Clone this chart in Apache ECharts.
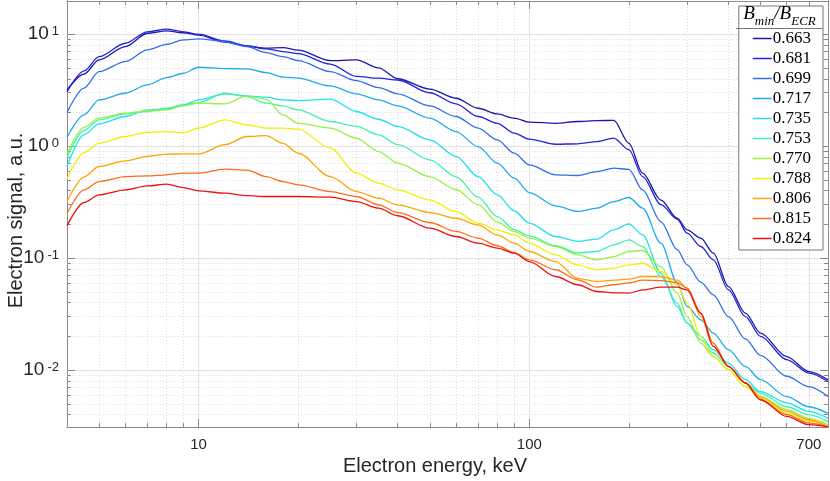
<!DOCTYPE html>
<html><head><meta charset="utf-8">
<script src="https://cdn.jsdelivr.net/npm/echarts@6/dist/echarts.min.js"></script>
<style>html,body{margin:0;padding:0;background:#fff}#c{width:830px;height:481px}</style>
</head><body><div id="c"></div>
<script>
const energy = [4,4.5,5,6,7,8,9,10,12,14,16,18,20,25,30,35,40,50,60,70,80,90,100,120,140,160,180,200,220,250,280,300,330,360,400,450,500,600,700,800];
const s0663 = [3.18,4.4,5.9,7.75,10.2,10.7,10.3,9.8, 8.5,7.8,7.5,7.6,7.2, 5.8,5.9,5.0,4.0, 3.23,2.68,2.18,1.94,1.78,1.64, 1.60,1.66,1.69,1.70,1.06,0.574, 0.33,0.227,0.179,0.151,0.111, 0.0557,0.0323,0.0214, 0.0132,0.0097,0.0082];
const s0681 = [3.05,4.7,6.3,8.3,10.5,11.1,10.5,10.0, 8.7,7.9,7.4,7.0,6.7, 5.4,4.2,4.05,3.9, 3.0,2.39,1.84,1.60,1.31,1.155, 1.04,1.05,1.10,1.18,0.93,0.535, 0.30,0.223,0.167,0.127,0.0966, 0.052,0.030,0.020, 0.0124,0.0094,0.0079];
const s0699 = [2.0,3.3,4.63,5.7,7.24,8.1,8.9,9.1, 8.6,7.75,6.85,6.3,5.8, 4.63,3.85,3.34,2.93, 2.29,1.84,1.45,1.14,0.866,0.68, 0.555,0.547,0.593,0.637,0.62,0.407, 0.211,0.119,0.087,0.061,0.047, 0.030,0.019,0.0135, 0.0088,0.0071,0.0058];
const s0717 = [1.20,1.9,2.59,2.97,3.53,4.1,4.48,5.07, 4.93,4.9,4.54,4.13,4.05, 3.45,2.93,2.59,2.29, 1.78,1.35,0.99,0.705,0.518,0.385, 0.293,0.261,0.279,0.32,0.348,0.28, 0.136,0.060,0.037,0.0281,0.0214, 0.0152,0.0108,0.0082, 0.0058,0.0047,0.0041];
const s0735 = [0.66,1.26,1.58,1.84,2.11,2.15,2.34,2.59, 2.93,2.81,2.74,2.59,2.55, 2.63,2.04,1.74,1.50, 1.14,0.81,0.535,0.367,0.265,0.205, 0.156,0.141,0.148,0.179,0.202,0.161, 0.0735,0.037,0.0263,0.020,0.0152, 0.01155,0.0082,0.0064, 0.0051,0.00427,0.0037];
const s0753 = [0.79,1.38,1.72,1.94,2.04,2.18,2.34,2.45, 2.97,2.77,2.42,2.29,2.11, 1.66,1.50,1.26,1.03, 0.755,0.535,0.35,0.235,0.18,0.158, 0.129,0.111,0.1146,0.1315,0.1455,0.127, 0.0685,0.0396,0.0263,0.0186,0.0142, 0.0108,0.00766,0.0062, 0.0047,0.0040,0.00348];
const s0770 = [0.85,1.47,1.78,1.97,2.07,2.11,2.29,2.42, 2.39,2.81,2.63,1.90,1.60, 1.45,1.18,0.895,0.705, 0.535,0.41,0.30,0.21,0.173,0.151, 0.127,0.107,0.0966,0.1033,0.1146,0.117, 0.084,0.0487,0.030,0.0174,0.0132, 0.0101,0.0071,0.0058, 0.00442,0.0037,0.00325];
const s0788 = [0.51,0.877,1.06,1.22,1.33,1.35,1.32,1.45, 1.72,1.55,1.45,1.45,1.42, 0.96,0.574,0.467,0.407, 0.33,0.26,0.205,0.179,0.161,0.136, 0.107,0.087,0.0787,0.0814,0.087,0.090, 0.076,0.0578,0.0396,0.020,0.0132, 0.0101,0.0071,0.00562, 0.0041,0.0035,0.00313];
const s0806 = [0.32,0.53,0.658,0.74,0.81,0.85,0.853,0.853, 1.03,1.22,1.24,1.06,0.866, 0.535,0.393,0.343,0.299, 0.255,0.227,0.198,0.161,0.136,0.1146, 0.093,0.066,0.0618,0.0635,0.065,0.0685, 0.0685,0.0635,0.054,0.030,0.0163, 0.0108,0.00766,0.0058, 0.00427,0.0036,0.00313];
const s0815 = [0.25,0.407,0.483,0.535,0.543,0.555,0.574,0.574, 0.624,0.61,0.535,0.483,0.451, 0.393,0.355,0.299,0.255, 0.208,0.173,0.151,0.129,0.112,0.0966, 0.0787,0.064,0.055,0.0578,0.060,0.0635, 0.063,0.0605,0.054,0.0323,0.0174, 0.0108,0.00766,0.00543, 0.0040,0.00336,0.00313];
const s0824 = [0.195,0.314,0.367,0.407,0.442,0.458,0.427,0.399, 0.38,0.362,0.355,0.355,0.355, 0.35,0.32,0.279,0.239, 0.185,0.156,0.136,0.123,0.111,0.093, 0.0685,0.0578,0.0503,0.049,0.0487,0.052, 0.055,0.055,0.052,0.032,0.0163, 0.0108,0.00766,0.00543, 0.00385,0.00325,0.0031];

const seriesNames = ['0.663','0.681','0.699','0.717','0.735','0.753','0.770','0.788','0.806','0.815','0.824'];
const seriesValues = [s0663,s0681,s0699,s0717,s0735,s0753,s0770,s0788,s0806,s0815,s0824];
const seriesColors = ['#1a1aa6','#2323dc','#2f6fe8','#1eaaf0','#20e0f0','#40f2a8','#98f040','#f2f000','#ffa500','#ff6a1a','#ee1111'];

const xMajorTicks = [10,100,700];
const xMinorTicks = [5,6,7,8,9,20,30,40,50,60,70,80,90,200,300,400,500,600,800];
const yMajorTicks = [0.01,0.1,1,10];
const yMinorTicks = [0.004,0.005,0.006,0.007,0.008,0.009,0.02,0.03,0.04,0.05,0.06,0.07,0.08,0.09,0.2,0.3,0.4,0.5,0.6,0.7,0.8,0.9,2,3,4,5,6,7,8,9];

const AX = '#8a8a8a';
const TXT = '#262626';
const majorGrid = {show:true, lineStyle:{color:'#e3e3e3', width:1, type:'solid'}};
const minorGrid = {show:true, lineStyle:{color:'#dcdcdc', width:1, type:[1,2]}};

function mkAxis(kind, pos, ticks, len, label, split, extra) {
  const ax = {
    type:'log', logBase:10, position:pos,
    min: kind==='x' ? 4 : 0.0031, max: kind==='x' ? 800 : 19.8,
    axisLine:{show:true, onZero:false, lineStyle:{color:AX, width:1}},
    axisTick:{show:true, inside:true, length:len, customValues:ticks, lineStyle:{color:AX, width:1}},
    axisLabel: label || {show:false},
    splitLine: split || {show:false},
    minorTick:{show:false}, minorSplitLine:{show:false}
  };
  return Object.assign(ax, extra || {});
}

const xLabel = {show:true, customValues:xMajorTicks, margin:10, fontSize:15, color:TXT, fontFamily:'Liberation Sans',
  formatter: v => String(Math.round(v))};
const yLabel = {show:true, customValues:yMajorTicks, margin:8, color:TXT, fontFamily:'Liberation Sans',
  formatter: v => '{b|10}{s|' + Math.round(Math.log10(v)) + '}',
  rich:{ b:{fontSize:19, lineHeight:19, verticalAlign:'bottom', fontFamily:'Liberation Sans', color:TXT},
         s:{fontSize:13, lineHeight:13, verticalAlign:'top', padding:[0,0,10,3], fontFamily:'Liberation Sans', color:TXT} }};

const option = {
  animation:false,
  backgroundColor:'#fff',
  grid:{left:67, right:2, top:1, bottom:54, containLabel:false, outerBoundsMode:'none'},
  xAxis:[
    mkAxis('x','bottom',xMajorTicks,8,xLabel,majorGrid,{
      name:'Electron energy, keV', nameLocation:'middle', nameGap:29,
      nameTextStyle:{fontSize:20, color:TXT, fontFamily:'Liberation Sans', padding:[0,25,0,0]}}),
    mkAxis('x','bottom',xMinorTicks,4,null,minorGrid),
    mkAxis('x','top',xMajorTicks,8,null,null),
    mkAxis('x','top',xMinorTicks,4,null,null)
  ],
  yAxis:[
    mkAxis('y','left',yMajorTicks,8,yLabel,majorGrid,{
      name:'Electron signal, a.u.', nameLocation:'middle', nameGap:41, nameMoveOverlap:false,
      nameTextStyle:{fontSize:20, color:TXT, fontFamily:'Liberation Sans', padding:[0,13,0,0]}}),
    mkAxis('y','left',yMinorTicks,4,null,minorGrid),
    mkAxis('y','right',yMajorTicks,8,null,null),
    mkAxis('y','right',yMinorTicks,4,null,null)
  ],
  legend:{
    data:seriesNames, orient:'vertical', right:7, top:6, selectedMode:false,
    icon:'rect', itemWidth:19, itemHeight:1.5, itemGap:3,
    padding:[24,12,3,14],
    backgroundColor:'#fff', borderColor:'#777', borderWidth:1, borderRadius:0,
    textStyle:{fontFamily:'Liberation Serif', fontSize:17, color:'#000', padding:[0,0,0,-4]},
    z:10
  },
  graphic:[
    {type:'line', z:100, shape:{x1:736, y1:28.5, x2:823, y2:28.5}, style:{stroke:'#777', lineWidth:1}},
    {type:'text', z:100, x:779.5, y:16, style:{
      text:'{i|B}{s|min}{i|/B}{s|ECR}', align:'center', verticalAlign:'middle',
      rich:{ i:{fontSize:19, fontStyle:'italic', fontFamily:'Liberation Serif', color:'#000', lineHeight:24, verticalAlign:'top'},
             s:{fontSize:13, fontStyle:'italic', fontFamily:'Liberation Serif', color:'#000', lineHeight:13, verticalAlign:'bottom'} }
    }}
  ],
  series: seriesNames.map((n,k) => ({
    name:n, type:'line', xAxisIndex:0, yAxisIndex:0,
    symbol:'none', showSymbol:false, smooth:0.3, smoothMonotone:'x',
    lineStyle:{width:1.3, color:seriesColors[k]}, itemStyle:{color:seriesColors[k]},
    data: energy.map((e,i) => [e, seriesValues[k][i]])
  }))
};
const chart = echarts.init(document.getElementById('c'), null, {renderer:'canvas'});
chart.setOption(option);
</script></body></html>
